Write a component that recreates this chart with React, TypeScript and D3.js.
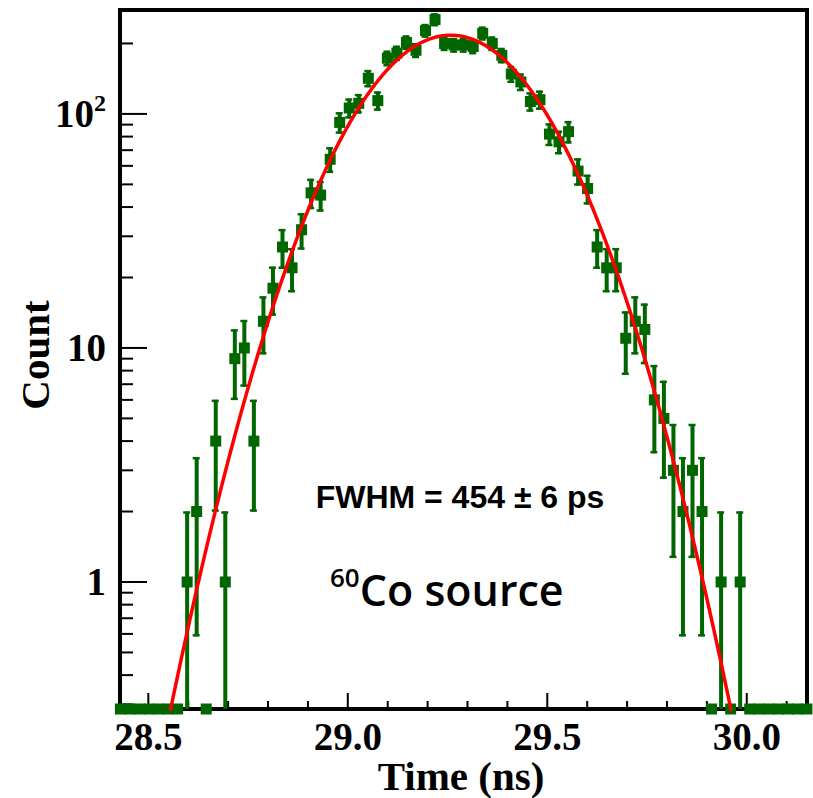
import React from "react";
import * as d3 from "d3";

// Histogram definition (bin centres start at the frame edge)
const binFirstCenter = 28.43;
const binWidth = 0.0239;
const counts: number[] = [
  0, 0, 0, 0, 0, 0, 0, 1, 2, 0, 4, 1, 9, 10, 4, 13, 18, 27, 22, 32,
  46, 45, 64, 92, 106, 111, 142, 114, 173, 182, 202, 187, 227, 253, 200, 197, 197, 194, 221, 200,
  178, 148, 137, 113, 115, 82, 76, 84, 57, 48, 27, 22, 22, 11, 13, 12, 6, 5, 3, 2,
  3, 2, 0, 1, 0, 1, 0, 0, 0, 0, 0, 0, 0,
];

// Gaussian fit parameters (FWHM = 2.355 * sigma)
const fitAmp = 217;
const fitMean = 29.258;
const fitSigma = 0.1928;

const xMajorTicks = [28.5, 29.0, 29.5, 30.0];
const xTickLabels = ["28.5", "29.0", "29.5", "30.0"];
const yMajorTicks = [1, 10, 100];

const W = 813;
const H = 798;
const frame = { left: 120, right: 807, top: 10, bottom: 709 };
const GREEN = "#006600";

export default function App() {
  const x = d3.scaleLinear().domain([28.429, 30.151]).range([frame.left, frame.right]);
  const y = d3.scaleLog().domain([0.2866, 278]).range([frame.bottom, frame.top]);

  const bins = counts.map((c, i) => ({ t: binFirstCenter + i * binWidth, c }));

  const xMinor: number[] = [];
  for (let k = 285; k <= 301; k++) {
    const v = k / 10;
    if (!xMajorTicks.some((m) => Math.abs(m - v) < 1e-6)) xMinor.push(v);
  }
  const yMinor: number[] = [];
  [0.1, 1, 10, 100].forEach((dec) => {
    for (let m = 2; m <= 9; m++) {
      const v = dec * m;
      if (v >= 0.2866 && v <= 278) yMinor.push(v);
    }
  });

  const fitPts: [number, number][] = [];
  for (let t = 28.43; t <= 30.151; t += 0.002) {
    const v = fitAmp * Math.exp(-((t - fitMean) ** 2) / (2 * fitSigma * fitSigma));
    fitPts.push([t, Math.max(v, 0.05)]);
  }
  const line = d3
    .line<[number, number]>()
    .x((d) => x(d[0]))
    .y((d) => y(d[1]));

  const yBottom = frame.bottom;
  const ms = 11;
  const cap = 3;

  return (
    <svg width={W} height={H} style={{ position: "absolute", left: 0, top: 0, background: "#fff" }}>
      <defs>
        <clipPath id="plotclip">
          <rect x={frame.left} y={frame.top} width={frame.right - frame.left} height={frame.bottom - frame.top + 2} />
        </clipPath>
      </defs>
      <rect x={0} y={0} width={W} height={H} fill="#fff" />
      <rect
        x={frame.left}
        y={frame.top}
        width={frame.right - frame.left}
        height={frame.bottom - frame.top}
        fill="none"
        stroke="#000"
        strokeWidth={4}
      />
      {yMajorTicks.map((v) => (
        <line key={"ym" + v} x1={frame.left} x2={frame.left + 27} y1={y(v)} y2={y(v)} stroke="#000" strokeWidth={2} />
      ))}
      {yMinor.map((v) => (
        <line key={"yn" + v} x1={frame.left} x2={frame.left + 13} y1={y(v)} y2={y(v)} stroke="#000" strokeWidth={2} />
      ))}
      {xMajorTicks.map((v) => (
        <line key={"xm" + v} x1={x(v)} x2={x(v)} y1={frame.bottom} y2={frame.bottom - 16} stroke="#000" strokeWidth={2} />
      ))}
      {xMinor.map((v) => (
        <line key={"xn" + v} x1={x(v)} x2={x(v)} y1={frame.bottom} y2={frame.bottom - 8} stroke="#000" strokeWidth={2} />
      ))}
      {xMajorTicks.map((v, i) => (
        <text
          key={"xl" + v}
          x={x(v)}
          y={750}
          textAnchor="middle"
          fontFamily="'Liberation Serif', 'Times New Roman', serif"
          fontWeight="bold"
          fontSize={39}
          fill="#000"
        >
          {xTickLabels[i]}
        </text>
      ))}
      <g fontFamily="'Liberation Serif', 'Times New Roman', serif" fontWeight="bold" fill="#000">
        <text x={106} y={y(1) + 13} textAnchor="end" fontSize={39}>1</text>
        <text x={106} y={y(10) + 13} textAnchor="end" fontSize={39}>10</text>
        <text x={106} y={y(100) + 13} textAnchor="end" fontSize={39}>
          10<tspan fontSize={24} dy={-16}>2</tspan>
        </text>
        <text x={461} y={790} textAnchor="middle" fontSize={41}>Time (ns)</text>
        <text transform={`translate(49,355) rotate(-90)`} textAnchor="middle" fontSize={41}>Count</text>
      </g>
      <g>
        {bins.map((b, i) => {
          const cx = x(b.t);
          if (b.c <= 0) {
            return <rect key={"z" + i} x={cx - ms / 2} y={yBottom - ms / 2} width={ms} height={ms} fill={GREEN} />;
          }
          const err = Math.sqrt(b.c);
          const hi = y(b.c + err);
          const hasLo = b.c - err > 0.2866;
          const lo = hasLo ? y(b.c - err) : yBottom;
          const cy = y(b.c);
          return (
            <g key={"b" + i}>
              <line x1={cx} x2={cx} y1={hi} y2={lo} stroke={GREEN} strokeWidth={4} />
              <line x1={cx - cap - 1} x2={cx + cap} y1={hi + 1} y2={hi + 1} stroke={GREEN} strokeWidth={2.5} />
              {hasLo && (
                <line x1={cx - cap - 1} x2={cx + cap} y1={lo - 1} y2={lo - 1} stroke={GREEN} strokeWidth={2.5} />
              )}
              <rect x={cx - ms / 2} y={cy - ms / 2} width={ms} height={ms} fill={GREEN} />
            </g>
          );
        })}
      </g>
      <path d={line(fitPts) || ""} fill="none" stroke="#ff0000" strokeWidth={3.5} clipPath="url(#plotclip)" />
      <text
        x={460}
        y={508}
        textAnchor="middle"
        fontFamily="'Liberation Sans', Arial, sans-serif"
        fontWeight="bold"
        fontSize={32}
        fill="#000"
      >
        FWHM = 454 ± 6 ps
      </text>
      <text x={330} y={606} fontFamily="'Open Sans', Lato, sans-serif" fontWeight={600} fill="#000">
        <tspan fontSize={26} dy={-19}>60</tspan>
        <tspan fontSize={43} dy={19}>Co source</tspan>
      </text>
    </svg>
  );
}
